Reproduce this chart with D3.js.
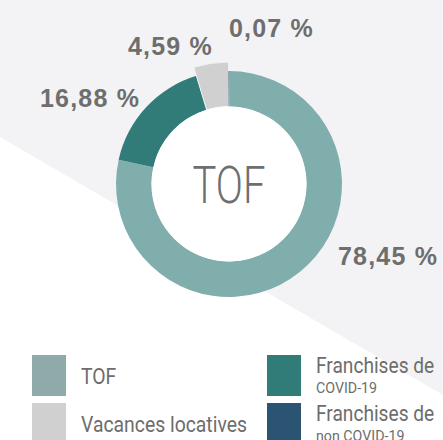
<!DOCTYPE html>
<html>
<head>
<meta charset="utf-8">
<script src="https://cdn.jsdelivr.net/npm/d3@7"></script>
<style>
  html, body { margin: 0; padding: 0; background: #fff; overflow: hidden; }
  svg { display: block; }
</style>
</head>
<body>
<svg></svg>
<script>
let width = 443, height = 440;

// data
const categories = ["TOF", "Franchises de COVID-19", "Vacances locatives", "Franchises de non COVID-19"];
const values = [78.45, 16.88, 4.59, 0.07];
const valueLabels = ["78,45 %", "16,88 %", "4,59 %", "0,07 %"];
const legendLine1 = ["TOF", "Franchises de", "Vacances locatives", "Franchises de"];
const legendLine2 = ["", "COVID-19", "", "non COVID-19"];

const colors = ["#80aead", "#317c79", "#d0d0d0", "#2b5372"];
const legendColors = ["#8eabaa", "#317c79", "#d0d0d0", "#2b5372"];

// label placement relative to donut centre (layout only)
const labelOffset = [[109, 81], [-189, -77], [-101, -129], [0, -147]];

let svg = d3.select("svg")
    .attr("width", width)
    .attr("height", height)
    .attr("viewBox", "0 0 " + width + " " + height);

// background: grey with a white triangle lower left
svg.append("rect").attr("width", width).attr("height", height).attr("fill", "#f3f3f5");
svg.append("path")
    .attr("d", "M0,137 L443,395 L443,440 L0,440 Z")
    .attr("fill", "#ffffff");

let cx = 229, cy = 184;
let rOuter = 113, rInner = 77.5;

let pie = d3.pie().sort(null).value(d => d)(values);
let arc = d3.arc().innerRadius(rInner).outerRadius(rOuter);
let arcBig = d3.arc().innerRadius(rInner).outerRadius(rOuter + 9);

let g = svg.append("g").attr("transform", "translate(" + cx + "," + cy + ")");

g.selectAll("path.slice")
    .data(pie)
    .enter()
    .append("path")
    .attr("class", "slice")
    .attr("d", (d, i) => i == 2 ? arcBig(d) : arc(d))
    .attr("fill", (d, i) => colors[i])
    .attr("stroke", (d, i) => i == 2 ? "#f3f3f5" : "none")
    .attr("stroke-width", 1);

g.append("circle").attr("r", rInner).attr("fill", "#ffffff");

g.append("text")
    .attr("text-anchor", "middle")
    .attr("y", 19)
    .attr("font-family", "Roboto")
    .attr("font-weight", 300)
    .attr("font-size", 52)
    .attr("fill", "#6f6f6f")
    .attr("textLength", 73)
    .attr("lengthAdjust", "spacingAndGlyphs")
    .text("TOF");

g.selectAll("text.val")
    .data(valueLabels)
    .enter()
    .append("text")
    .attr("class", "val")
    .attr("x", (d, i) => labelOffset[i][0])
    .attr("y", (d, i) => labelOffset[i][1])
    .attr("font-family", "Liberation Sans, Arial, sans-serif")
    .attr("font-weight", "bold")
    .attr("font-size", 25)
    .attr("letter-spacing", 1.2)
    .attr("fill", "#6e6e6e")
    .text(d => d);

// legend, 2 columns
let legendOrder = [0, 2, 1, 3];
let legend = svg.append("g");
let items = legend.selectAll("g")
    .data(legendOrder)
    .enter()
    .append("g")
    .attr("transform", (d, k) => "translate(" + (k < 2 ? 32 : 267) + "," + (k % 2 == 0 ? 355 : 403) + ")");

items.append("rect")
    .attr("width", 34)
    .attr("height", 41)
    .attr("fill", d => legendColors[d]);

items.append("text")
    .attr("transform", d => legendLine2[d] ? "translate(49,18) scale(0.87,1)" : "translate(49,29) scale(0.88,1)")
    .attr("font-family", "Roboto")
    .attr("font-size", 22)
    .attr("fill", "#6d6d6d")
    .text(d => legendLine1[d]);

items.filter(d => legendLine2[d] != "")
    .append("text")
    .attr("transform", "translate(49,38) scale(0.95,1)")
    .attr("font-family", "Roboto")
    .attr("font-size", 15)
    .attr("fill", "#6d6d6d")
    .text(d => legendLine2[d]);
</script>
</body>
</html>
